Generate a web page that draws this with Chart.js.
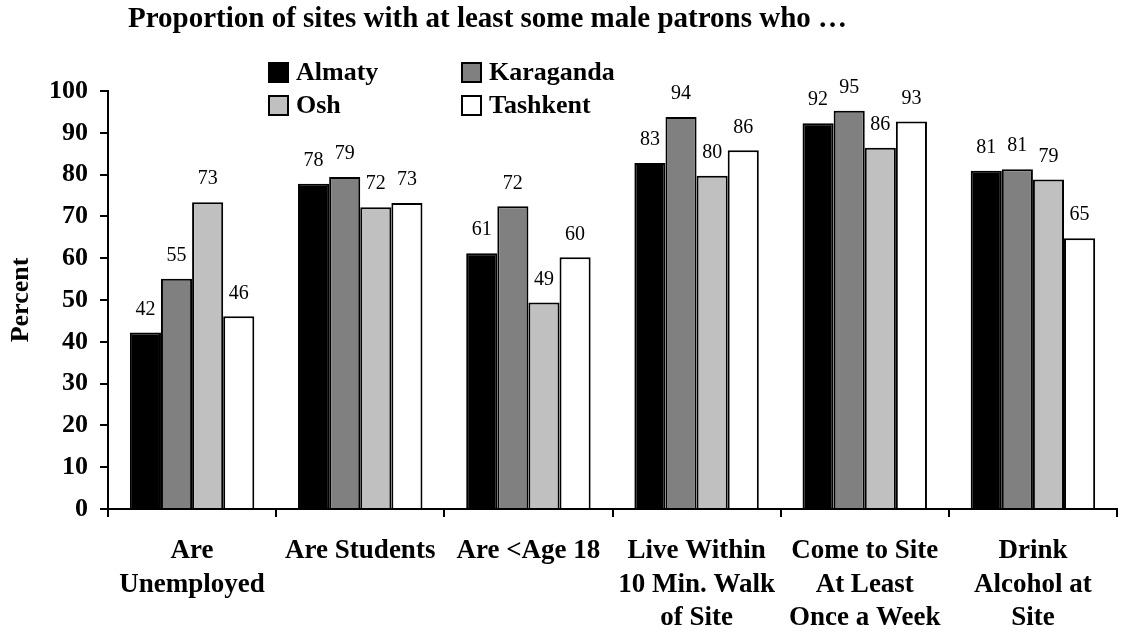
<!DOCTYPE html>
<html>
<head>
<meta charset="utf-8">
<title>Male patrons by site</title>
<script src="https://cdn.jsdelivr.net/npm/chart.js@4.4.1/dist/chart.umd.min.js"></script>
<style>
  body { margin: 0; background: #ffffff; }
  #wrap { width: 1141px; height: 631px; }
</style>
</head>
<body>
<div id="wrap"><canvas id="patronsChart" width="1141" height="631"></canvas></div>
<script>
// Datos del gráfico
const categorias = [
  ['Are', 'Unemployed'],
  'Are Students',
  'Are <Age 18',
  ['Live Within', '10 Min. Walk', 'of Site'],
  ['Come to Site', 'At Least', 'Once a Week'],
  ['Drink', 'Alcohol at', 'Site']
];
const ciudades = ['Almaty', 'Karaganda', 'Osh', 'Tashkent'];
const almaty    = [42.2, 77.8, 61.2, 82.8, 92.3, 80.9];
const karaganda = [55.1, 79.4, 72.4, 93.8, 95.3, 81.3];
const osh       = [73.4, 72.2, 49.4, 79.7, 86.4, 78.8];
const tashkent  = [46.1, 73.2, 60.2, 85.8, 92.7, 64.8];
const ticksY    = [0, 10, 20, 30, 40, 50, 60, 70, 80, 90, 100];

const colores = ['#000000', '#808080', '#c0c0c0', '#ffffff'];
const serif = '"Liberation Serif", "Times New Roman", serif';
const tituloTexto = 'Proportion of sites with at least some male patrons who \u2026';

// Etiquetas de valores encima de cada barra
const etiquetasPlugin = {
  id: 'etiquetas',
  afterDatasetsDraw(chart) {
    const ctx = chart.ctx;
    ctx.save();
    ctx.font = '20px ' + serif;
    ctx.fillStyle = '#000';
    ctx.textAlign = 'center';
    ctx.textBaseline = 'middle';
    chart.data.datasets.forEach((ds, i) => {
      chart.getDatasetMeta(i).data.forEach((bar, j) => {
        ctx.fillText(String(Math.round(ds.data[j])), bar.x, bar.y - 23);
      });
    });
    ctx.restore();
  }
};

// Título y leyenda en dos columnas
const decoracionPlugin = {
  id: 'decoracion',
  afterDraw(chart) {
    const ctx = chart.ctx;
    ctx.save();
    ctx.fillStyle = '#000';
    ctx.textBaseline = 'middle';
    ctx.textAlign = 'left';
    ctx.font = 'bold 29px ' + serif;
    ctx.fillText(tituloTexto, 128, 20);

    ctx.font = 'bold 26px ' + serif;
    chart.data.datasets.forEach((ds, i) => {
      const x = 269 + (i % 2) * 193;
      const y = 72 + Math.floor(i / 2) * 33;
      ctx.fillStyle = ds.backgroundColor;
      ctx.fillRect(x, y - 9, 19, 19);
      ctx.lineWidth = 2;
      ctx.strokeStyle = '#000';
      ctx.strokeRect(x, y - 9, 19, 19);
      ctx.fillStyle = '#000';
      ctx.fillText(ds.label, x + 27, y + 1);
    });
    ctx.restore();
  }
};

const series = [almaty, karaganda, osh, tashkent];

new Chart(document.getElementById('patronsChart'), {
  type: 'bar',
  data: {
    labels: categorias,
    datasets: series.map((valores, i) => ({
      label: ciudades[i],
      data: valores,
      backgroundColor: colores[i],
      borderColor: '#000',
      borderWidth: 2,
      categoryPercentage: 0.74,
      barPercentage: 1.0
    }))
  },
  options: {
    responsive: false,
    animation: false,
    layout: { padding: { top: 91, right: 24, left: 0, bottom: 0 } },
    plugins: {
      legend: { display: false },
      title: { display: false },
      tooltip: { enabled: false }
    },
    scales: {
      x: {
        grid: { drawOnChartArea: false, drawTicks: true, tickLength: 8, color: '#000', lineWidth: 2 },
        border: { color: '#000', width: 2 },
        ticks: {
          color: '#000',
          font: { family: serif, size: 27, weight: 'bold', lineHeight: 1.25 },
          padding: 17,
          maxRotation: 0,
          autoSkip: false
        },
        afterFit(scale) { scale.height = 122; }
      },
      y: {
        min: 0,
        max: 100,
        afterBuildTicks(scale) { scale.ticks = ticksY.map(v => ({ value: v })); },
        grid: { drawOnChartArea: false, drawTicks: true, tickLength: 8, color: '#000', lineWidth: 2 },
        border: { color: '#000', width: 2 },
        ticks: {
          color: '#000',
          font: { family: serif, size: 26, weight: 'bold' },
          padding: 12
        },
        title: {
          display: true,
          text: 'Percent',
          color: '#000',
          font: { family: serif, size: 26, weight: 'bold' },
          padding: { top: 6, bottom: 0 }
        },
        afterFit(scale) { scale.width = 108; }
      }
    }
  },
  plugins: [etiquetasPlugin, decoracionPlugin]
});
</script>
</body>
</html>
